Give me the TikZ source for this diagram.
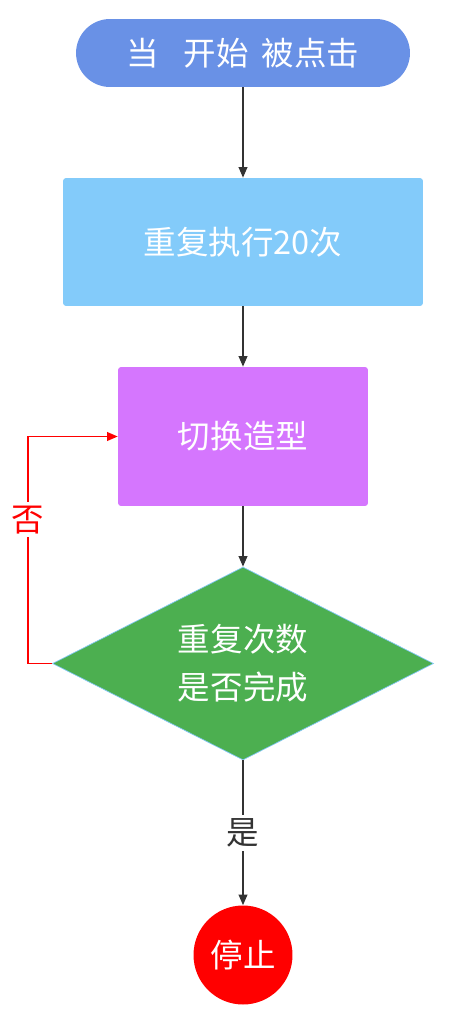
\documentclass[tikz,border=0pt]{standalone}
\usepackage{fontspec}
\setmainfont{Noto Sans CJK SC}
\usetikzlibrary{shapes.geometric,arrows.meta}
\definecolor{startblue}{HTML}{6991E6}
\definecolor{loopblue}{HTML}{83CBFA}
\definecolor{shapepurple}{HTML}{D576FE}
\definecolor{checkgreen}{HTML}{4CAF50}
\definecolor{linegray}{HTML}{333333}
\definecolor{edgeblue}{HTML}{7FC6F2}

\begin{document}
\begin{tikzpicture}[x=0.02cm,y=-0.02cm,
        every node/.style={font=\fontsize{18.5}{27.5}\selectfont},
        box/.style={text=white,inner sep=0pt},
        flow/.style={draw=linegray,line width=0.7pt,-{Triangle[length=6pt,width=5pt]}},
        tag/.style={fill=white,inner sep=2pt}]
        \useasboundingbox (0,0) rectangle (454,1024);

        \node[box,fill=startblue,rounded corners=0.68cm,minimum width=6.68cm,minimum height=1.36cm](start)at(243,53){当\hspace{0.75em}开始\hspace{0.4em}被点击};
        \node[box,fill=loopblue,rounded corners=0.06cm,minimum width=7.2cm,minimum height=2.56cm](repeat)at(243,242){重复执行20次};
        \node[box,fill=shapepurple,rounded corners=0.06cm,minimum width=5cm,minimum height=2.78cm](switch)at(243,436.5){切换造型};
        \node[box,diamond,aspect=2,fill=checkgreen,draw=edgeblue,line width=0.4pt,minimum width=7.62cm,minimum height=3.86cm,align=center](check)at(243,663.5){重复次数\\是否完成};
        \node[box,circle,fill=red,minimum size=1.98cm](stop)at(243,955){停止};

        \draw[flow](start)--(repeat);
        \draw[flow](repeat)--(switch);
        \draw[flow](switch)--(check);
        \draw[flow](check)--node[tag,text=linegray]{是}(stop);

        \coordinate(bend)at(28,663.5);
        \draw[red,line width=0.7pt,-{Triangle[length=6pt,width=5pt]}](check.west)--(bend)|-node[pos=0.317,tag,text=red]{否}(switch.west);
\end{tikzpicture}
\end{document}
